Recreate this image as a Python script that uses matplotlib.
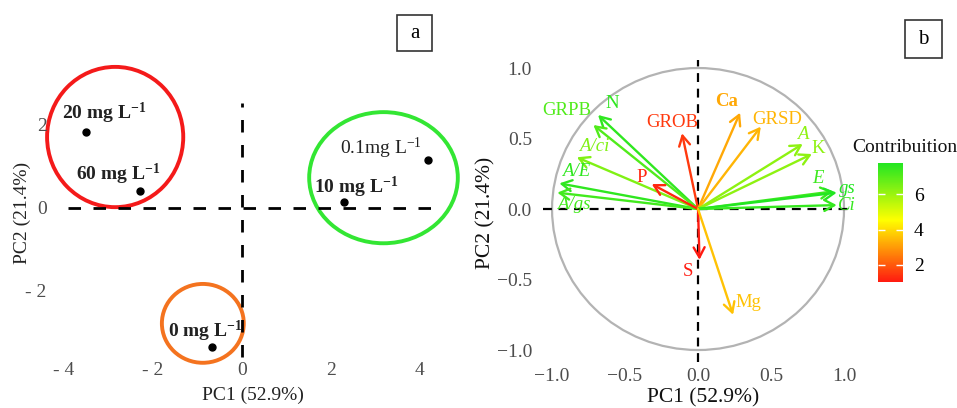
import matplotlib
matplotlib.use("Agg")
import matplotlib.pyplot as plt
from matplotlib.patches import Ellipse, Circle, Rectangle
from matplotlib.colors import LinearSegmentedColormap, Normalize
import numpy as np

plt.rcParams['font.family'] = ['Liberation Serif', 'DejaVu Serif']
plt.rcParams['mathtext.fontset'] = 'custom'
plt.rcParams['mathtext.rm'] = 'Liberation Serif'
plt.rcParams['mathtext.it'] = 'Liberation Serif:italic'
plt.rcParams['mathtext.bf'] = 'Liberation Serif:bold'

# ---------------- Panel a data ----------------
ind_labels = ["20 mg L$^{\\mathbf{-1}}$", "60 mg L$^{\\mathbf{-1}}$", "0.1mg L$^{-1}$",
              "10 mg L$^{\\mathbf{-1}}$", "0 mg L$^{\\mathbf{-1}}$"]
ind_bold = [True, True, False, True, True]
ind_x = [-3.50, -2.29, 4.18, 2.29, -0.67]
ind_y = [1.83, 0.41, 1.16, 0.14, -3.35]
lab_x = [-4.04, -3.73, 2.20, 1.62, -1.66]
lab_y = [2.14, 0.67, 1.30, 0.36, -3.10]

grp_colors = ["#f41a1a", "#33e633", "#f4731f"]
grp_cx = [-2.85, 3.18, -0.88]
grp_cy = [1.71, 0.73, -2.78]
grp_rx = [1.53, 1.67, 0.92]
grp_ry = [1.69, 1.58, 0.95]

a_xticks = [-4, -2, 0, 2, 4]
a_xticklabels = ["- 4", "- 2", "0", "2", "4"]
a_yticks = [-2, 0, 2]
a_yticklabels = ["- 2", "0", "2"]

# ---------------- Panel b data ----------------
var_names = ["N", "GRPB", "A/ci", "A/E", "A/gs", "P", "GROB", "Ca", "GRSD",
             "A", "K", "E", "gs", "Ci", "S", "Mg"]
var_x = [-0.685, -0.717, -0.83, -0.95, -0.964, -0.317, -0.11, 0.288, 0.43,
         0.717, 0.78, 0.925, 0.95, 0.95, 0.01, 0.24]
var_y = [0.667, 0.596, 0.367, 0.182, 0.116, 0.177, 0.537, 0.683, 0.584,
         0.461, 0.39, 0.125, 0.116, 0.028, -0.36, -0.75]
var_lx = [-0.59, -0.90, -0.71, -0.836, -0.854, -0.386, -0.18, 0.197, 0.543,
          0.72, 0.824, 0.824, 1.025, 1.02, -0.066, 0.345]
var_ly = [0.75, 0.70, 0.44, 0.265, 0.035, 0.225, 0.615, 0.76, 0.636,
          0.53, 0.43, 0.218, 0.147, 0.028, -0.44, -0.665]
var_contrib = [7.6, 7.1, 6.4, 7.6, 7.3, 1.2, 1.5, 3.2, 3.4,
               6.2, 6.2, 7.4, 7.8, 7.5, 1.0, 3.6]
var_style = ["normal", "normal", "italic", "italic", "italic", "normal", "normal", "normal",
             "normal", "italic", "normal", "italic", "italic", "italic", "normal", "normal"]
var_weight = ["normal"] * 7 + ["bold"] + ["normal"] * 8

b_ticks = [-1.0, -0.5, 0.0, 0.5, 1.0]
b_ticklabels = ["\u22121.0", "\u22120.5", "0.0", "0.5", "1.0"]
cb_ticks = [2, 4, 6]

W, H = 957, 408
fig = plt.figure(figsize=(W / 100, H / 100), dpi=100)

def rect(l, r, t, b):
    return [l / W, (H - b) / H, (r - l) / W, (b - t) / H]

tick_gray = "#4d4d4d"

# ================= Panel a =================
axa = fig.add_axes(rect(55, 470, 60, 362))
axa.set_xlim(-4.202, 5.124)
axa.set_ylim(-3.711, 3.566)
for s in axa.spines.values():
    s.set_visible(False)
axa.plot([-3.9, 4.5], [0, 0], color="black", lw=2.0, ls=(0, (4.5, 4.5)))
axa.plot([0, 0], [-3.6, 2.53], color="black", lw=2.0, ls=(0, (4.5, 4.5)))
for c, cx, cy, rx, ry in zip(grp_colors, grp_cx, grp_cy, grp_rx, grp_ry):
    axa.add_patch(Ellipse((cx, cy), 2 * rx, 2 * ry, fill=False, ec=c, lw=2.8, clip_on=False))
axa.plot(ind_x, ind_y, "o", color="black", ms=5)
for t, b, x, y in zip(ind_labels, ind_bold, lab_x, lab_y):
    axa.text(x, y, t, fontsize=14, fontweight="bold" if b else "normal",
             ha="left", va="baseline", color="#222222")
axa.set_xticks(a_xticks)
axa.set_xticklabels(a_xticklabels)
axa.set_yticks(a_yticks)
axa.set_yticklabels(a_yticklabels)
axa.tick_params(axis="x", length=0, pad=0, labelsize=14, labelcolor=tick_gray)
axa.tick_params(axis="y", length=0, pad=6, labelsize=14, labelcolor=tick_gray)
fig.text(253 / W, 1 - 395 / H, "PC1 (52.9%)", fontsize=14, ha="center", va="center", color="#222222")
fig.text(22 / W, 1 - 213 / H, "PC2 (21.4%)", fontsize=14, ha="center", va="center",
         rotation=90, color="#222222")
fig.add_artist(Rectangle((397 / W, 1 - 51 / H), 35 / W, 36 / H, transform=fig.transFigure,
                         fill=False, ec="#333333", lw=1.2))
fig.text(414.5 / W, 1 - 33 / H, "a", fontsize=15, ha="center", va="center")

# ================= Panel b =================
cmap = LinearSegmentedColormap.from_list(
    "contrib", [(0.0, "#ff1a10"), (0.52, "#ffff00"), (1.0, "#22e622")])
norm = Normalize(vmin=min(var_contrib), vmax=max(var_contrib))

axb = fig.add_axes(rect(543, 850, 60, 362))
axb.set_xlim(-1.062, 1.041)
axb.set_ylim(-1.085, 1.057)
for s in axb.spines.values():
    s.set_visible(False)
axb.add_patch(Circle((0, 0), 1.0, fill=False, ec="#b3b3b3", lw=1.6, clip_on=False))
axb.axhline(0, color="black", lw=1.6, ls=(0, (4, 3)))
axb.axvline(0, color="black", lw=1.6, ls=(0, (4, 3)))
for n, x, y, lx, ly, c, st, wt in zip(var_names, var_x, var_y, var_lx, var_ly,
                                       var_contrib, var_style, var_weight):
    col = cmap(norm(c))
    axb.annotate("", xy=(x, y), xytext=(0, 0),
                 arrowprops=dict(arrowstyle="->,head_length=0.4,head_width=0.22",
                                 mutation_scale=18, color=col, lw=1.7,
                                 shrinkA=0, shrinkB=0))
    axb.text(lx, ly, n, fontsize=13.5, color=col, style=st, fontweight=wt,
             ha="center", va="center")
axb.set_xticks(b_ticks)
axb.set_xticklabels(b_ticklabels)
axb.set_yticks(b_ticks)
axb.set_yticklabels(b_ticklabels)
axb.tick_params(axis="x", length=0, pad=4, labelsize=14, labelcolor=tick_gray)
axb.tick_params(axis="y", length=0, pad=8, labelsize=14, labelcolor=tick_gray)
fig.text(703 / W, 1 - 398 / H, "PC1 (52.9%)", fontsize=15.5, ha="center", va="center", color="#111111")
fig.text(486 / W, 1 - 213 / H, "PC2 (21.4%)", fontsize=15.5, ha="center", va="center",
         rotation=90, color="#111111")
fig.add_artist(Rectangle((905 / W, 1 - 58 / H), 37 / W, 38 / H, transform=fig.transFigure,
                         fill=False, ec="#333333", lw=1.2))
fig.text(923.5 / W, 1 - 39 / H, "b", fontsize=15, ha="center", va="center")

# colorbar
cax = fig.add_axes(rect(878, 903, 163, 282))
sm = plt.cm.ScalarMappable(cmap=cmap, norm=norm)
cb = fig.colorbar(sm, cax=cax, ticks=cb_ticks)
cb.outline.set_visible(False)
cax.tick_params(axis="y", direction="in", color="white", length=5, width=1,
                left=True, right=True, labelleft=False, labelright=True,
                labelsize=14, pad=8)
fig.text(852 / W, 1 - 148 / H, "Contribuition", fontsize=14, ha="left", va="center", color="#111111")

fig.savefig("out.png", dpi=100)
